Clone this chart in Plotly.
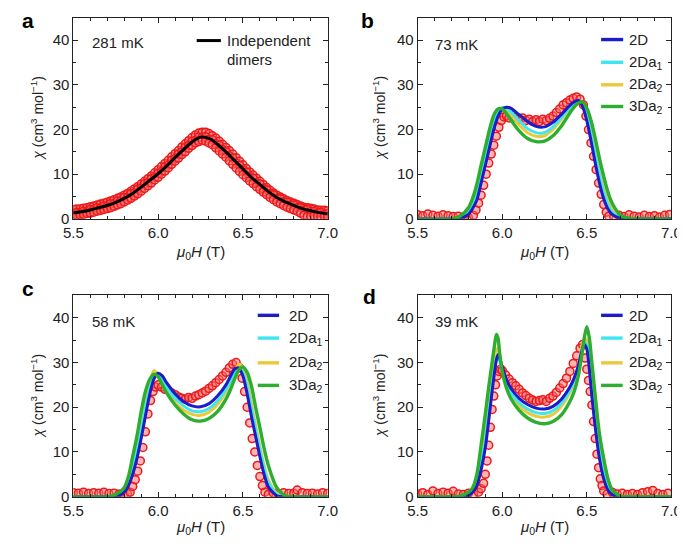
import plotly.graph_objects as go

# ---------------- data ----------------
# panel a (281 mK)
xa = [5.50, 5.52, 5.54, 5.56, 5.58, 5.60, 5.62, 5.64, 5.66, 5.68, 5.70, 5.72, 5.74, 5.76, 5.78,
      5.80, 5.82, 5.84, 5.86, 5.88, 5.90, 5.92, 5.94, 5.96, 5.98, 6.00, 6.02, 6.04, 6.06, 6.08,
      6.10, 6.12, 6.14, 6.16, 6.18, 6.20, 6.22, 6.24, 6.26, 6.28, 6.30, 6.32, 6.34, 6.36, 6.38,
      6.40, 6.42, 6.44, 6.46, 6.48, 6.50, 6.52, 6.54, 6.56, 6.58, 6.60, 6.62, 6.64, 6.66, 6.68,
      6.70, 6.72, 6.74, 6.76, 6.78, 6.80, 6.82, 6.84, 6.86, 6.88, 6.90, 6.92, 6.94, 6.96, 6.98, 7.00]
ya_hi = [2.1, 2.2, 2.2, 2.4, 2.5, 2.7, 2.9, 3.1, 3.3, 3.5, 3.7, 4.0, 4.3, 4.6, 4.9,
         5.3, 5.7, 6.2, 6.7, 7.2, 7.8, 8.4, 9.0, 9.6, 10.3, 11.0, 11.7, 12.4, 13.1, 13.9,
         14.6, 15.3, 16.1, 16.8, 17.5, 18.2, 18.8, 19.2, 19.4, 19.4, 19.1, 18.6, 18.1, 17.4, 16.7,
         16.0, 15.3, 14.5, 13.7, 12.9, 12.1, 11.3, 10.5, 9.8, 9.1, 8.4, 7.7, 7.0, 6.4, 5.8,
         5.3, 4.9, 4.5, 4.1, 3.8, 3.5, 3.2, 2.9, 2.6, 2.5, 2.4, 2.2, 2.0, 1.9, 1.9, 1.8]
ya_mid = [1.2, 1.5, 1.3, 1.7, 1.6, 2.1, 2.0, 2.5, 2.4, 2.9, 2.8, 3.4, 3.4, 4.0, 4.0,
          4.7, 4.8, 5.6, 5.8, 6.6, 6.9, 7.8, 8.1, 9.0, 9.3, 10.2, 10.6, 11.6, 12.0, 13.1,
          13.5, 14.5, 15.0, 16.0, 16.4, 17.3, 17.6, 18.3, 18.2, 18.4, 17.8, 17.7, 16.8, 16.5, 15.5,
          15.1, 14.1, 13.6, 12.5, 12.0, 11.0, 10.5, 9.5, 9.1, 8.1, 7.8, 6.8, 6.5, 5.6, 5.4,
          4.6, 4.5, 3.8, 3.7, 3.1, 3.1, 2.5, 2.5, 2.0, 2.1, 1.6, 1.7, 1.3, 1.4, 1.0, 1.2]
ya_lo = [0.8, 0.8, 0.9, 1.0, 1.2, 1.3, 1.5, 1.7, 1.9, 2.1, 2.3, 2.5, 2.8, 3.1, 3.4,
         3.8, 4.2, 4.6, 5.1, 5.6, 6.2, 6.8, 7.4, 8.0, 8.7, 9.3, 10.0, 10.7, 11.4, 12.2,
         12.9, 13.6, 14.4, 15.0, 15.8, 16.4, 17.0, 17.3, 17.6, 17.4, 17.0, 16.6, 15.9, 15.2, 14.5,
         13.8, 13.0, 12.2, 11.4, 10.6, 9.9, 9.2, 8.5, 7.9, 7.2, 6.6, 6.0, 5.4, 4.8, 4.3,
         3.8, 3.4, 3.0, 2.6, 2.3, 2.0, 1.7, 1.3, 0.8, 0.5, 0.6, 0.7, 0.6, 0.5, 0.6, 0.5]
xa_fit = [5.50, 5.55, 5.60, 5.65, 5.70, 5.75, 5.80, 5.85, 5.90, 5.95, 6.00, 6.05, 6.10, 6.15,
          6.20, 6.25, 6.30, 6.35, 6.40, 6.45, 6.50, 6.55, 6.60, 6.65, 6.70, 6.75, 6.80, 6.85,
          6.90, 6.95, 7.00]
ya_fit = [1.3, 1.6, 2.0, 2.5, 3.0, 3.7, 4.6, 5.7, 7.1, 8.6, 10.1, 11.8, 13.7, 15.5,
          17.2, 18.3, 18.0, 16.7, 15.0, 13.1, 11.2, 9.3, 7.7, 6.1, 4.8, 3.8, 3.0, 2.3,
          1.8, 1.4, 1.1]

# panel b (73 mK) data
xb = [5.50, 5.53, 5.56, 5.59, 5.62, 5.65, 5.68, 5.71, 5.74, 5.77, 5.80, 5.83, 5.845, 5.86, 5.875,
      5.89, 5.905, 5.92, 5.935, 5.95, 5.965, 5.98, 5.995, 6.01, 6.025, 6.04, 6.06, 6.08, 6.10, 6.12,
      6.14, 6.16, 6.18, 6.20, 6.22, 6.24, 6.26, 6.28, 6.30, 6.32, 6.34, 6.36, 6.38, 6.40, 6.42,
      6.44, 6.46, 6.48, 6.495, 6.51, 6.525, 6.54, 6.555, 6.57, 6.585, 6.60, 6.615, 6.63, 6.66, 6.69,
      6.72, 6.75, 6.78, 6.81, 6.84, 6.87, 6.90, 6.93, 6.96, 6.99]
yb = [0.9, 0.7, 1.1, 0.8, 0.6, 0.9, 0.7, 0.5, 0.6, 0.4, 0.3, 0.8, 2.0, 3.5, 5.3,
      7.5, 10.0, 12.5, 14.5, 16.5, 18.5, 20.5, 22.0, 22.8, 23.0, 22.6, 23.2, 22.7, 22.3, 22.6,
      22.0, 22.3, 21.8, 22.2, 21.8, 22.3, 22.0, 22.5, 23.0, 23.8, 24.6, 25.5, 26.0, 26.6, 27.0,
      27.3, 26.8, 25.5, 23.0, 20.0, 17.0, 14.0, 11.0, 8.0, 5.5, 3.2, 1.5, 0.6, 0.4, 0.8,
      0.5, 0.9, 0.6, 0.4, 0.8, 0.5, 0.7, 0.4, 0.8, 1.0]

# panel c (58 mK) data
xc = [5.50, 5.53, 5.56, 5.59, 5.62, 5.65, 5.68, 5.71, 5.74, 5.77, 5.80, 5.82, 5.835, 5.85, 5.865,
      5.88, 5.895, 5.91, 5.925, 5.94, 5.955, 5.97, 5.985, 6.00, 6.02, 6.04, 6.06, 6.08, 6.10, 6.12,
      6.14, 6.16, 6.18, 6.20, 6.22, 6.24, 6.26, 6.28, 6.30, 6.32, 6.34, 6.36, 6.38, 6.40, 6.42,
      6.44, 6.46, 6.48, 6.495, 6.51, 6.525, 6.54, 6.555, 6.57, 6.585, 6.60, 6.615, 6.63, 6.65, 6.68,
      6.71, 6.74, 6.77, 6.80, 6.82, 6.85, 6.88, 6.91, 6.94, 6.97, 7.00]
yc = [0.9, 0.8, 1.0, 0.7, 0.9, 0.8, 1.0, 0.7, 0.8, 0.6, 0.5, 0.6, 1.0, 2.3, 3.8,
      5.7, 8.0, 11.0, 14.5, 18.5, 21.5, 23.5, 24.5, 25.0, 24.5, 24.0, 23.8, 23.2, 22.8, 22.3,
      22.0, 21.8, 22.2, 22.0, 22.5, 22.8, 23.2, 23.6, 24.2, 24.8, 25.5, 26.2, 27.0, 27.8, 28.8,
      29.6, 30.0, 28.8, 26.5, 23.5, 20.0, 16.5, 13.0, 10.0, 7.0, 4.5, 2.5, 1.0, 0.5, 0.8,
      0.6, 0.9, 0.7, 0.8, 1.5, 0.9, 0.7, 0.8, 0.6, 0.9, 0.7]

# panel d (39 mK) data
xd = [5.50, 5.53, 5.56, 5.59, 5.62, 5.65, 5.68, 5.71, 5.74, 5.77, 5.80, 5.83, 5.86, 5.875, 5.89,
      5.90, 5.91, 5.92, 5.93, 5.94, 5.95, 5.96, 5.97, 5.98, 5.99, 6.00, 6.02, 6.04, 6.06, 6.08,
      6.10, 6.12, 6.14, 6.16, 6.18, 6.20, 6.22, 6.24, 6.26, 6.28, 6.30, 6.32, 6.34, 6.36, 6.38,
      6.40, 6.42, 6.44, 6.46, 6.475, 6.49, 6.50, 6.51, 6.52, 6.53, 6.54, 6.55, 6.56, 6.57, 6.58,
      6.59, 6.60, 6.62, 6.65, 6.68, 6.71, 6.74, 6.77, 6.80, 6.83, 6.86, 6.89, 6.92, 6.95, 6.98]
yd = [0.6, 0.9, 0.5, 1.3, 0.7, 1.0, 0.8, 1.2, 0.6, 0.5, 0.8, 0.6, 1.0, 1.8, 3.0,
      5.0, 8.0, 11.5, 15.5, 19.5, 22.5, 25.0, 27.0, 28.0, 28.5, 28.2, 27.2, 26.3, 25.5, 24.8,
      24.0, 23.2, 22.6, 22.0, 21.6, 21.3, 21.5, 21.7, 21.3, 22.0, 22.5, 23.3, 24.3, 25.3, 26.5,
      28.0, 29.8, 31.5, 33.2, 34.0, 31.0, 28.5, 26.0, 23.5, 20.5, 16.8, 13.0, 9.5, 6.5, 4.0,
      2.5, 1.3, 0.6, 1.0, 0.6, 0.8, 0.5, 0.7, 0.5, 0.9, 1.1, 1.4, 0.7, 0.5, 0.8]

# model curves, panels b and c
xg = [5.5, 5.7, 5.75, 5.8, 5.825, 5.85, 5.875, 5.9, 5.925, 5.95, 5.975, 6.0, 6.025, 6.05, 6.1,
      6.15, 6.2, 6.25, 6.3, 6.35, 6.4, 6.425, 6.45, 6.475, 6.5, 6.525, 6.55, 6.575, 6.6, 6.625,
      6.65, 6.7, 6.75, 6.8, 7.0]
b_2D = [0, 0, 0.1, 1.0, 2.3, 4.2, 8.0, 12.0, 16.0, 20.0, 23.0, 24.5, 25.0, 24.8, 23.3,
        21.8, 20.7, 20.6, 21.6, 23.4, 25.4, 26.2, 26.5, 25.2, 22.0, 17.5, 12.5, 8.0, 4.5, 2.2,
        1.0, 0.1, 0, 0, 0]
b_2Da1 = [0, 0, 0.2, 1.5, 3.2, 5.5, 9.5, 13.8, 17.8, 21.3, 23.8, 24.9, 24.8, 24.0, 22.0,
          20.2, 19.3, 19.3, 20.6, 22.7, 25.0, 25.8, 26.2, 25.6, 23.0, 18.8, 14.2, 9.8, 6.0, 3.2,
          1.5, 0.2, 0, 0, 0]
b_2Da2 = [0, 0, 0.4, 2.0, 4.0, 7.0, 11.0, 15.0, 19.0, 22.3, 24.2, 24.8, 24.3, 23.3, 21.0,
          19.3, 18.5, 18.6, 20.0, 22.3, 24.8, 25.8, 26.3, 26.0, 24.0, 20.5, 16.0, 11.5, 7.5, 4.5,
          2.3, 0.4, 0, 0, 0]
b_3Da2 = [0, 0, 0.6, 2.5, 4.6, 7.8, 12.0, 16.0, 20.0, 23.2, 24.6, 24.6, 23.6, 22.2, 19.7,
          18.0, 17.3, 17.4, 18.6, 20.8, 23.7, 25.0, 25.9, 26.2, 24.8, 22.0, 18.0, 13.5, 9.5, 6.0,
          3.5, 0.8, 0.1, 0, 0]
c_2D = [0, 0, 0, 1.0, 2.5, 5.0, 8.5, 13.0, 18.0, 22.8, 26.3, 27.6, 27.0, 25.5, 23.0,
        21.3, 20.3, 20.1, 20.8, 22.5, 25.0, 26.8, 28.5, 28.8, 27.0, 23.0, 18.0, 13.5, 9.0, 5.0,
        2.2, 0.2, 0, 0, 0]
c_2Da1 = [0, 0, 0.1, 1.5, 3.2, 6.2, 10.0, 14.8, 19.8, 24.0, 26.8, 27.2, 26.2, 24.6, 22.0,
          20.3, 19.2, 19.0, 19.7, 21.4, 24.0, 25.8, 27.6, 28.7, 27.8, 24.5, 19.8, 15.0, 10.5, 6.3,
          3.2, 0.5, 0, 0, 0]
c_2Da2 = [0, 0, 0.2, 1.8, 3.8, 7.0, 11.0, 16.0, 21.0, 25.3, 28.2, 27.3, 25.6, 23.8, 21.0,
          19.4, 18.4, 18.2, 18.9, 20.6, 23.4, 25.5, 27.8, 29.6, 28.8, 25.8, 21.0, 16.0, 11.3, 7.0,
          3.8, 0.7, 0, 0, 0]
c_3Da2 = [0, 0, 0.5, 2.0, 4.5, 9.0, 13.5, 19.0, 23.5, 26.2, 27.4, 26.8, 25.0, 23.2, 20.5,
          18.5, 17.2, 16.9, 17.5, 19.0, 21.8, 23.8, 26.2, 28.3, 29.0, 27.8, 24.8, 20.0, 15.5, 10.8,
          7.0, 2.0, 0.2, 0, 0]

# model curves, panel d
xgd = [5.5, 5.7, 5.75, 5.8, 5.825, 5.85, 5.875, 5.9, 5.92, 5.94, 5.955, 5.965, 5.975, 5.985, 6.0,
       6.025, 6.05, 6.1, 6.15, 6.2, 6.25, 6.3, 6.35, 6.4, 6.425, 6.45, 6.47, 6.485, 6.5, 6.515,
       6.53, 6.55, 6.575, 6.6, 6.625, 6.65, 6.7, 6.75, 7.0]
d_2D = [0, 0, 0, 0.3, 1.0, 2.5, 6.0, 11.0, 17.0, 23.5, 28.0, 30.5, 31.8, 31.0, 29.0,
        26.2, 24.3, 22.0, 20.6, 19.8, 19.6, 20.2, 21.8, 24.5, 26.5, 29.3, 32.5, 34.0, 33.0, 28.5,
        22.5, 15.5, 8.5, 4.0, 1.5, 0.5, 0, 0, 0]
d_2Da1 = [0, 0, 0, 0.5, 1.5, 3.5, 7.5, 12.5, 18.5, 24.5, 28.5, 30.8, 31.5, 30.3, 28.2,
          25.3, 23.3, 21.0, 19.6, 18.8, 18.6, 19.2, 20.9, 23.8, 26.0, 29.2, 32.5, 34.5, 34.0, 30.0,
          24.0, 17.0, 10.0, 5.0, 2.0, 0.7, 0, 0, 0]
d_2Da2 = [0, 0, 0, 0.7, 1.8, 4.0, 8.5, 14.0, 20.0, 26.5, 30.8, 33.0, 33.0, 31.0, 28.3,
          25.0, 22.8, 20.3, 18.8, 18.0, 17.8, 18.4, 20.2, 23.3, 25.8, 29.5, 33.2, 35.3, 35.0, 31.5,
          25.5, 18.5, 11.0, 5.8, 2.5, 0.9, 0.1, 0, 0]
d_3Da2 = [0, 0, 0.1, 1.0, 2.0, 5.0, 11.5, 18.5, 24.5, 30.0, 34.0, 36.3, 35.5, 32.0, 28.0,
          24.3, 22.0, 19.3, 17.6, 16.6, 16.3, 16.8, 18.3, 21.3, 23.5, 27.0, 31.5, 35.5, 38.0, 35.5,
          30.0, 22.5, 14.0, 8.5, 4.0, 1.5, 0.1, 0, 0]

temps = ["281 mK", "73 mK", "58 mK", "39 mK"]
panel_letters = ["a", "b", "c", "d"]
model_names = ["2D", "2Da<sub>1</sub>", "2Da<sub>2</sub>", "3Da<sub>2</sub>"]

# ---------------- style ----------------
FONT = "Liberation Sans, Arial, Helvetica, sans-serif"
C_BLUE = "#1c1cc8"
C_CYAN = "#3fe6f2"
C_YEL = "#ecc93a"
C_GRN = "#2eae2e"
model_colors = [C_BLUE, C_CYAN, C_YEL, C_GRN]

# axis domains (paper fractions)
xdom = [[57 / 685, 319 / 685], [411.7 / 685, 673 / 685]]
ydom = [[1 - 214 / 544, 1 - 10 / 544], [1 - 496 / 544, 1 - 291.7 / 544]]

fig = go.Figure()

def data_marker():
    return dict(symbol="circle", size=8, color="rgba(255,105,105,0.5)",
                line=dict(color="rgb(235,25,25)", width=1.5))

# panel a
fig.add_trace(go.Scatter(x=xa + xa + xa, y=ya_hi + ya_mid + ya_lo, mode="markers", marker=data_marker(),
                         xaxis="x", yaxis="y", showlegend=False, hoverinfo="skip"))
fig.add_trace(go.Scatter(x=xa_fit, y=ya_fit, mode="lines", line=dict(color="black", width=3, shape="spline"),
                         xaxis="x", yaxis="y", showlegend=False))

panels = [
    (xb, yb, xg, [b_2D, b_2Da1, b_2Da2, b_3Da2], "x2", "y2"),
    (xc, yc, xg, [c_2D, c_2Da1, c_2Da2, c_3Da2], "x3", "y3"),
    (xd, yd, xgd, [d_2D, d_2Da1, d_2Da2, d_3Da2], "x4", "y4"),
]
for xdat, ydat, xgrid, curves, xa_, ya_ in panels:
    fig.add_trace(go.Scatter(x=xdat, y=ydat, mode="markers", marker=data_marker(),
                             xaxis=xa_, yaxis=ya_, showlegend=False, hoverinfo="skip"))
    for i in [2, 1, 0, 3]:
        fig.add_trace(go.Scatter(x=xgrid, y=curves[i], mode="lines",
                                 line=dict(color=model_colors[i], width=3 if i != 3 else 3.4,
                                           shape="spline", smoothing=0.7),
                                 xaxis=xa_, yaxis=ya_, name=model_names[i], showlegend=False))

layout = dict(width=685, height=544, margin=dict(l=0, r=0, t=0, b=0),
              paper_bgcolor="white", plot_bgcolor="white",
              font=dict(family=FONT, size=15, color="#222"), showlegend=False)

ax_common = dict(showline=True, linecolor="#222", linewidth=1, mirror="ticks", ticks="inside",
                 ticklen=5, tickwidth=1, tickcolor="#222", showgrid=False, zeroline=False,
                 tickfont=dict(family=FONT, size=15, color="#222"))
for k in range(4):
    col = k % 2
    row = k // 2
    sx = "" if k == 0 else str(k + 1)
    layout["xaxis" + sx] = dict(ax_common, domain=xdom[col], anchor="y" + sx, range=[5.5, 7.0],
                                tickvals=[5.5, 6.0, 6.5, 7.0], ticktext=["5.5", "6.0", "6.5", "7.0"],
                                minor=dict(ticks="inside", ticklen=3, tickcolor="#222", dtick=0.1,
                                           tick0=5.5, showgrid=False))
    layout["yaxis" + sx] = dict(ax_common, domain=ydom[row], anchor="x" + sx, range=[0, 45],
                                tickvals=[0, 10, 20, 30, 40],
                                minor=dict(ticks="inside", ticklen=3, tickcolor="#222", dtick=5,
                                           tick0=0, showgrid=False))
fig.update_layout(**layout)

ann = []
shapes = []
# panel letters (x px, top y px of text box)
letter_pos = [(3, 0), (352, 0), (3, 272), (354, 280)]
for k, (px, py) in enumerate(letter_pos):
    ann.append(dict(text="<b>%s</b>" % panel_letters[k], x=px / 685, y=1 - py / 544, xref="paper",
                    yref="paper", xanchor="left", yanchor="top", showarrow=False, borderpad=0,
                    font=dict(family=FONT, size=21, color="black")))

# axis titles
for k in range(4):
    col = k % 2
    row = k // 2
    xc_ = (xdom[col][0] + xdom[col][1]) / 2
    yc_ = (ydom[row][0] + ydom[row][1]) / 2
    xt_y = [1 - 248 / 544, 1 - 527 / 544][row]
    yt_x = [20 / 685, 372 / 685][col]
    ann.append(dict(text="<i>μ</i><sub>0</sub><i>H</i> (T)", x=xc_, y=xt_y, xref="paper", yref="paper",
                    xanchor="center", yanchor="middle", showarrow=False,
                    font=dict(family=FONT, size=15, color="#222")))
    ann.append(dict(text="<i>χ</i> (cm<sup>3</sup> mol<sup>−1</sup>)", x=yt_x, y=yc_, xref="paper",
                    yref="paper", xanchor="center", yanchor="middle", textangle=-90, showarrow=False,
                    font=dict(family=FONT, size=14, color="#222")))

# temperature labels
tpos = [(0.065, 0.877), (0.059, 0.868), (0.065, 0.871), (0.059, 0.871)]
for k in range(4):
    sx = "" if k == 0 else str(k + 1)
    ann.append(dict(text=temps[k], x=tpos[k][0], y=tpos[k][1], xref="x%s domain" % sx,
                    yref="y%s domain" % sx, xanchor="left", yanchor="middle", showarrow=False,
                    font=dict(family=FONT, size=15, color="#222")))

# legend for panel a
shapes.append(dict(type="line", xref="x domain", yref="y domain", x0=0.485, x1=0.580, y0=0.887, y1=0.887,
                   line=dict(color="black", width=3)))
ann.append(dict(text="Independent", x=0.595, y=0.887, xref="x domain", yref="y domain",
                xanchor="left", yanchor="middle", showarrow=False, font=dict(family=FONT, size=15, color="#222")))
ann.append(dict(text="dimers", x=0.595, y=0.794, xref="x domain", yref="y domain",
                xanchor="left", yanchor="middle", showarrow=False, font=dict(family=FONT, size=15, color="#222")))

# legends for panels b, c, d
leg = {2: (0.723, 0.810, 0.824, [0.892, 0.779, 0.667, 0.559]),
       3: (0.725, 0.809, 0.839, [0.901, 0.788, 0.665, 0.553]),
       4: (0.723, 0.808, 0.824, [0.901, 0.788, 0.665, 0.553])}
for k, (lx0, lx1, tx, rows) in leg.items():
    for i in range(4):
        shapes.append(dict(type="line", xref="x%d domain" % k, yref="y%d domain" % k,
                           x0=lx0, x1=lx1, y0=rows[i], y1=rows[i],
                           line=dict(color=model_colors[i], width=3.4)))
        ann.append(dict(text=model_names[i], x=tx, y=rows[i], xref="x%d domain" % k, yref="y%d domain" % k,
                        xanchor="left", yanchor="middle", showarrow=False,
                        font=dict(family=FONT, size=15, color="#222")))

fig.update_layout(annotations=ann, shapes=shapes)
fig.write_html("out.html")
